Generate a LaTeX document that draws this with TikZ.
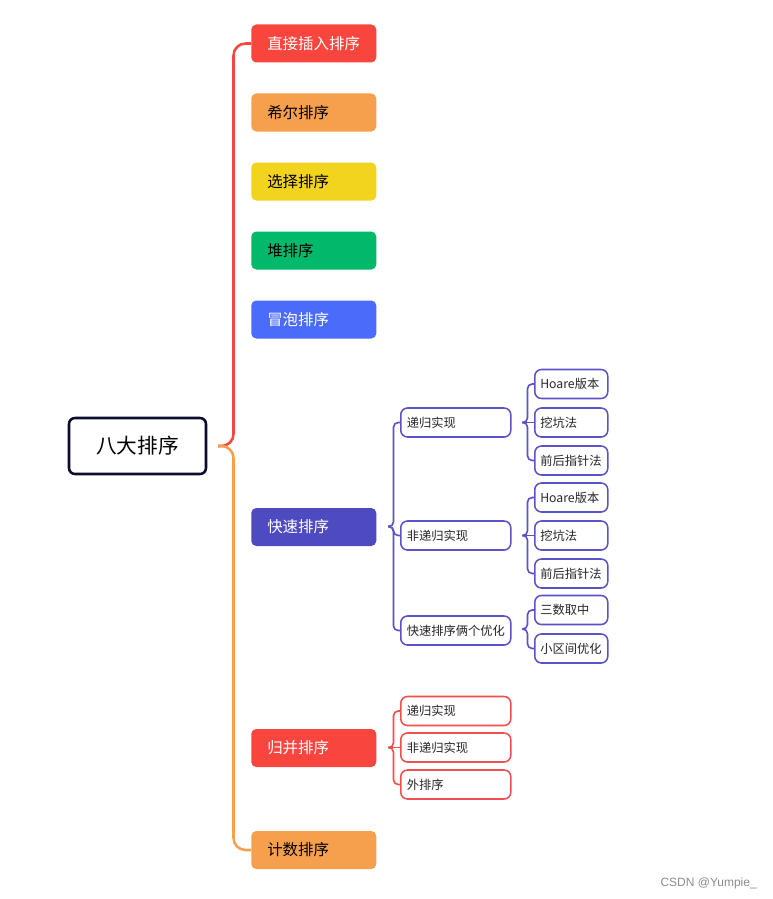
\documentclass[tikz,border=0pt]{standalone}
\usepackage{fontspec}
\setmainfont{Noto Sans CJK SC}
\newfontfamily\wmfont{Liberation Sans}
\definecolor{cred}{HTML}{F8463F}
\definecolor{corange}{HTML}{F6A04D}
\definecolor{cyellow}{HTML}{F2D31E}
\definecolor{cgreen}{HTML}{00B96B}
\definecolor{cblue}{HTML}{4B6BFB}
\definecolor{cpurple}{HTML}{4E4ABF}
\definecolor{cpline}{HTML}{5A53C6}
\definecolor{cnavy}{HTML}{0B0B2E}
\definecolor{cmred}{HTML}{F24E4E}
\begin{document}
\begin{tikzpicture}[x=0.75pt,y=-0.75pt,
  lvl/.style={rounded corners=3.75pt, minimum height=28.5pt, text width=69.75pt,
    inner xsep=12pt, inner ysep=0pt, align=left, anchor=west,
    font=\fontsize{11.6}{12}\selectfont},
  rootbox/.style={draw=cnavy, line width=1.9pt, rounded corners=4.5pt, fill=white,
    minimum width=102.75pt, minimum height=42pt, font=\fontsize{15.5}{16}\selectfont},
  midbox/.style={draw=#1, line width=1.15pt, rounded corners=5pt, fill=white,
    minimum height=21.75pt, text width=73.5pt, inner xsep=4.5pt, inner ysep=0pt,
    align=left, anchor=west, text=black!85, font=\fontsize{9.2}{10}\selectfont},
  leafbox/.style={draw=cpline, line width=1.15pt, rounded corners=5pt, fill=white,
    minimum height=21.75pt, text width=46.5pt, inner xsep=4.125pt, inner ysep=0pt,
    align=left, anchor=west, text=black!85, font=\fontsize{9.2}{10}\selectfont},
  trunk/.style={line width=1.9pt, rounded corners=9pt},
  brace/.style={draw=#1, line width=1.2pt, rounded corners=3.5pt}
]
\fill[white] (0,0) rectangle (773,899);
\useasboundingbox (0,0) rectangle (773,899);

% root
\node[rootbox] (root) at (137.5,446) {八大排序};

% level 1
\node[lvl, fill=cred, text=white] (n1) at (251,43.5) {直接插入排序};
\node[lvl, fill=corange, text=black] (n2) at (251,112.5) {希尔排序};
\node[lvl, fill=cyellow, text=black] (n3) at (251,181.5) {选择排序};
\node[lvl, fill=cgreen, text=black] (n4) at (251,250.5) {堆排序};
\node[lvl, fill=cblue, text=white] (n5) at (251,319.5) {冒泡排序};
\node[lvl, fill=cpurple, text=white] (n6) at (251,527) {快速排序};
\node[lvl, fill=cred, text=white] (n7) at (251,748) {归并排序};
\node[lvl, fill=corange, text=black] (n8) at (251,850) {计数排序};

% trunk
\coordinate (rt) at (218,446);
\draw[trunk, draw=cred] (rt) -- (233.5,446) |- (n1.west);
\draw[trunk, draw=corange] (rt) -- (233.5,446) |- (n8.west);

% quick sort children
\node[midbox=cpline] (q1) at (400,422.5) {递归实现};
\node[midbox=cpline] (q2) at (400,535.5) {非递归实现};
\node[midbox=cpline] (q3) at (400,630.5) {快速排序俩个优化};

\coordinate (qtip) at (388,526.5);
\draw[brace=cpline] (qtip) -- (393.5,526.5) |- (q1.west);
\draw[brace=cpline] (qtip) -- (393.5,526.5) |- (q2.west);
\draw[brace=cpline] (qtip) -- (393.5,526.5) |- (q3.west);

% leaves
\node[leafbox] (h1) at (534,384) {Hoare版本};
\node[leafbox] (h2) at (534,422.5) {挖坑法};
\node[leafbox] (h3) at (534,460.5) {前后指针法};
\node[leafbox] (h4) at (534,497.5) {Hoare版本};
\node[leafbox] (h5) at (534,535.5) {挖坑法};
\node[leafbox] (h6) at (534,573.5) {前后指针法};
\node[leafbox] (h7) at (534,610) {三数取中};
\node[leafbox] (h8) at (534,648.5) {小区间优化};

\coordinate (t1) at (522,422.5);
\draw[brace=cpline] (t1) -- (527.5,422.5) |- (h1.west);
\draw[brace=cpline] (t1) -- (h2.west);
\draw[brace=cpline] (t1) -- (527.5,422.5) |- (h3.west);

\coordinate (t2) at (522,535.5);
\draw[brace=cpline] (t2) -- (527.5,535.5) |- (h4.west);
\draw[brace=cpline] (t2) -- (h5.west);
\draw[brace=cpline] (t2) -- (527.5,535.5) |- (h6.west);

\coordinate (t3) at (522,629);
\draw[brace=cpline] (t3) -- (527.5,629) |- (h7.west);
\draw[brace=cpline] (t3) -- (527.5,629) |- (h8.west);

% merge sort children
\node[midbox=cmred] (m1) at (400,711) {递归实现};
\node[midbox=cmred] (m2) at (400,747.5) {非递归实现};
\node[midbox=cmred] (m3) at (400,784.5) {外排序};

\coordinate (mtip) at (388,747.5);
\draw[brace=cmred] (mtip) -- (393.5,747.5) |- (m1.west);
\draw[brace=cmred] (mtip) -- (m2.west);
\draw[brace=cmred] (mtip) -- (393.5,747.5) |- (m3.west);

% watermark
\node[anchor=east, inner sep=0pt, text=black!45, font=\wmfont\fontsize{9}{10}\selectfont] (wm) at (757,883) {CSDN @Yumpie\_};
\end{tikzpicture}
\end{document}
